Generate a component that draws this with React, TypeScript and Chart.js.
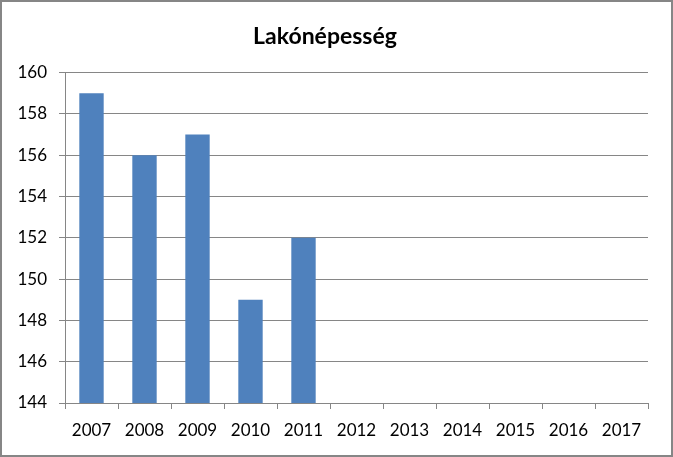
import React, { useEffect, useRef } from "react";
import { Chart, registerables } from "chart.js";

Chart.register(...registerables);

const categories = ["2007", "2008", "2009", "2010", "2011", "2012", "2013", "2014", "2015", "2016", "2017"];
const values: (number | null)[] = [159, 156, 157, 149, 152, null, null, null, null, null, null];
const chartTitle = "Lakónépesség";
const yMin = 144;
const yMax = 160;
const yStep = 2;

export default function App() {
  const ref = useRef<HTMLCanvasElement | null>(null);

  useEffect(() => {
    document.body.style.margin = "0";
    if (!ref.current) return;
    const font = "Lato, 'Open Sans', sans-serif";
    const chart = new Chart(ref.current, {
      type: "bar",
      data: {
        labels: categories,
        datasets: [
          {
            data: values,
            backgroundColor: "#4F81BD",
            borderWidth: 0,
            barPercentage: 0.46,
            categoryPercentage: 1,
          },
        ],
      },
      options: {
        animation: false,
        responsive: false,
        maintainAspectRatio: false,
        layout: { padding: { left: 0, right: 23, top: 0, bottom: 0 } },
        plugins: {
          legend: { display: false },
          tooltip: { enabled: false },
          title: {
            display: true,
            text: chartTitle,
            color: "#000",
            font: { family: font, size: 23, weight: "bold" },
            padding: { top: 21, bottom: 22 },
          },
        },
        scales: {
          x: {
            afterFit: (s: any) => {
              s.height = 52;
            },
            grid: {
              display: true,
              drawOnChartArea: false,
              drawTicks: true,
              tickLength: 6,
              color: "#868686",
              offset: true,
            },
            border: { display: true, color: "#868686", width: 1 },
            ticks: {
              color: "#000",
              font: { family: font, size: 17 },
              padding: 11,
              maxRotation: 0,
              autoSkip: false,
            },
          },
          y: {
            min: yMin,
            max: yMax,
            afterFit: (s: any) => {
              s.width = 63;
            },
            grid: {
              color: "#868686",
              drawTicks: true,
              tickLength: 6,
            },
            border: { display: true, color: "#868686", width: 1 },
            ticks: {
              stepSize: yStep,
              color: "#000",
              font: { family: font, size: 17 },
              padding: 12,
            },
          },
        },
      },
    });
    return () => chart.destroy();
  }, []);

  return (
    <div
      style={{
        width: 673,
        height: 457,
        boxSizing: "border-box",
        border: "2px solid #868686",
        background: "#fff",
        position: "relative",
      }}
    >
      <canvas ref={ref} width={669} height={453} style={{ display: "block" }} />
    </div>
  );
}
